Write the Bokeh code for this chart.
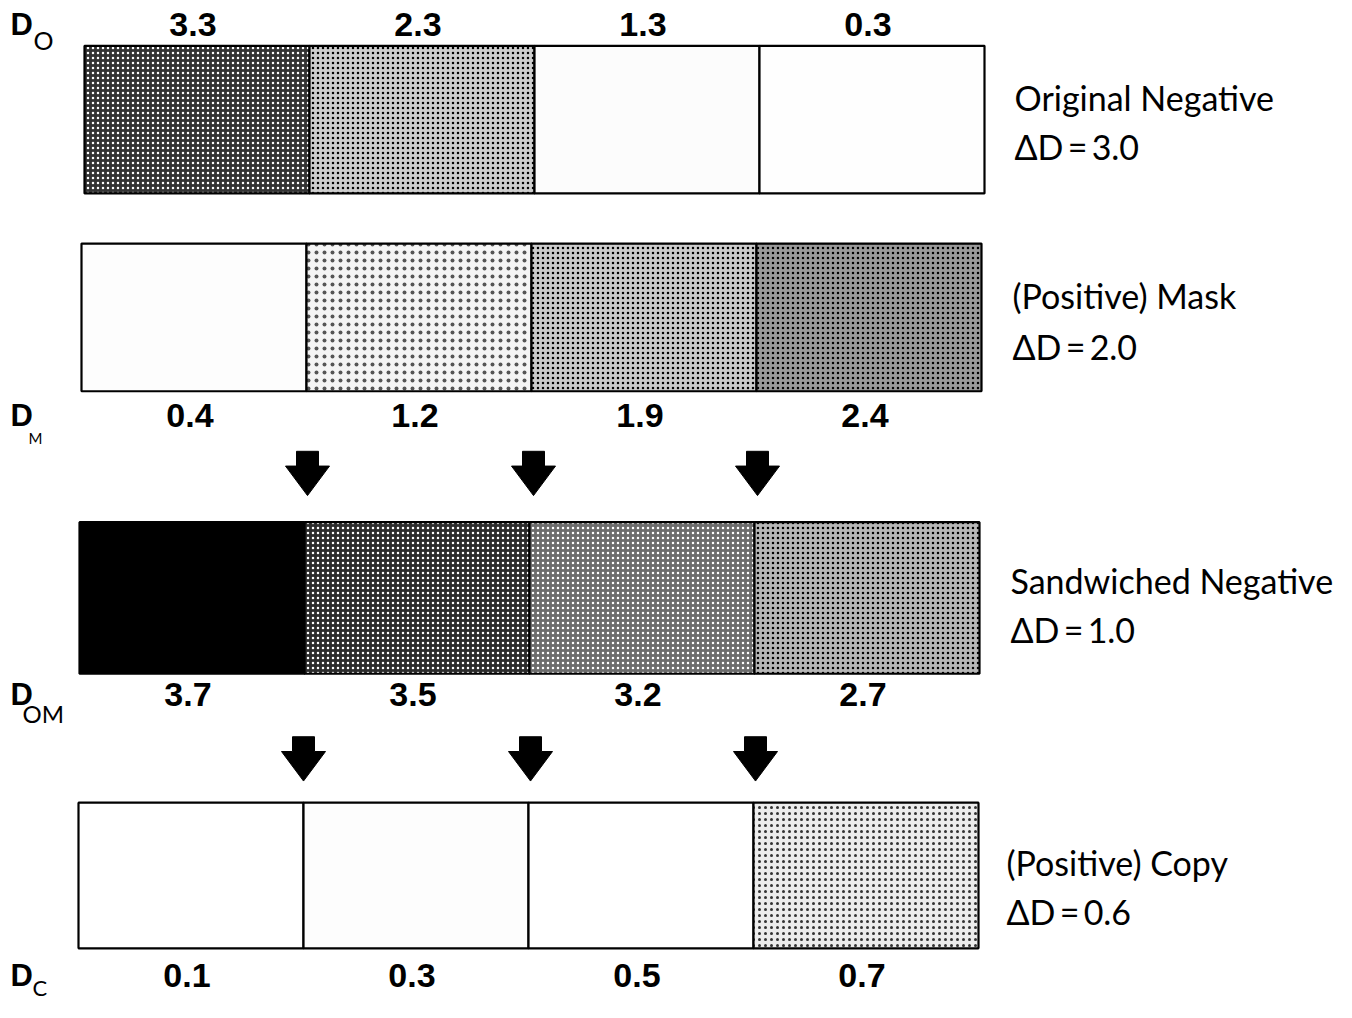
from bokeh.plotting import figure
from bokeh.models import Range1d, ColumnDataSource
from bokeh.core.properties import value
from bokeh.embed import file_html
from bokeh.resources import INLINE

# ---------------- data ----------------
strip_names = ["Original Negative", "(Positive) Mask", "Sandwiched Negative", "(Positive) Copy"]
delta_d = ["ΔD\u2009=\u20093.0", "ΔD\u2009=\u20092.0", "ΔD\u2009=\u20091.0", "ΔD\u2009=\u20090.6"]
d_o = [3.3, 2.3, 1.3, 0.3]
d_m = [0.4, 1.2, 1.9, 2.4]
d_om = [3.7, 3.5, 3.2, 2.7]
d_c = [0.1, 0.3, 0.5, 0.7]
sub_labels = ["O", "M", "OM", "C"]
densities = [d_o, d_m, d_om, d_c]

# ---------------- styles / layout ----------------
strip_top = [46, 247, 530, 815]
strip_hgt = [150, 150, 154, 148]
strip_left = [84, 81, 79, 78]
cell_w = 225
value_y = [24, 422, 705, 991]          # centre of the density labels
sub_dx = [33, 28, 22, 32]
sub_dy = [16, 22, 19, 12]
sub_size = ["25px", "15px", "24px", "22px"]
name_y = [99, 300, 589, 876]
delta_y = [148, 352, 639, 926]
right_x = [1014, 1012, 1010, 1006]
# per cell: fill, hatch colour (None = no hatch), hatch scale, hatch weight
cell_style = [
    [("#333333", "white", 5, 1.4), ("#cdcdcd", "black", 5, 1.2), ("#fcfcfc", None, 0, 0), ("#fefefe", None, 0, 0)],
    [("#fdfdfd", None, 0, 0), ("#f4f4f4", "#555555", 8, 0.9), ("#cbcbcb", "black", 5, 1.2), ("#9a9a9a", "black", 5, 1.4)],
    [("#000000", None, 0, 0), ("#2c2c2c", "white", 5, 1.3), ("#6c6c6c", "white", 5, 1.4), ("#b6b6b6", "black", 5, 1.3)],
    [("#ffffff", None, 0, 0), ("#fdfdfd", None, 0, 0), ("#ffffff", None, 0, 0), ("#ececec", "#333333", 6, 0.8)],
]
arrow_rows = [(458, 473, 503), (748, 763, 793)]
arrow_x = [[307, 533, 757], [303, 530, 755]]

W, H = 1336, 1002
p = figure(width=W, height=H, output_backend="svg", toolbar_location=None,
           x_range=Range1d(0, W), y_range=Range1d(1018, 0),
           min_border=0, outline_line_color=None)
p.axis.visible = False
p.grid.visible = False
p.background_fill_color = "white"

num_font = value("Liberation Sans")
txt_font = value("Lato")

for s in range(4):
    top = strip_top[s]
    bot = top + strip_hgt[s]
    x0 = strip_left[s]
    for i, dv in enumerate(densities[s]):
        fill, hc, hs, hw = cell_style[s][i]
        l = x0 + i * cell_w
        r = l + cell_w
        kw = dict(fill_color=fill, line_color="black", line_width=2.2)
        if hc is not None:
            kw.update(hatch_pattern="dot", hatch_color=hc, hatch_scale=hs, hatch_weight=hw)
        p.quad(left=[l], right=[r], top=[top], bottom=[bot], **kw)
    # value labels
    xs = [x0 + (i + 0.5) * cell_w - 4 for i in range(4)]
    vy = value_y[s]
    src = ColumnDataSource(dict(x=xs, y=[vy] * 4, t=[f"{v:.1f}" for v in densities[s]]))
    p.text(x="x", y="y", text="t", source=src, text_font=num_font, text_font_size="34px",
           text_font_style="bold", text_align="center", text_baseline="middle", text_color="black")
    # left D labels
    p.text(x=[10], y=[vy], text=["D"], text_font=num_font, text_font_size="31px",
           text_font_style="bold", text_align="left", text_baseline="middle", text_color="black")
    p.text(x=[sub_dx[s]], y=[vy + sub_dy[s]], text=[sub_labels[s]], text_font=txt_font,
           text_font_size=sub_size[s], text_align="left", text_baseline="middle", text_color="black")
    # right names
    p.text(x=[right_x[s]], y=[name_y[s]], text=[strip_names[s]], text_font=txt_font,
           text_font_size="34px", text_align="left", text_baseline="middle", text_color="black")
    p.text(x=[right_x[s]], y=[delta_y[s]], text=[delta_d[s]], text_font=txt_font,
           text_font_size="34px", text_align="left", text_baseline="middle", text_color="black")

# arrows
axs, ays = [], []
for (yt, ym, yb), row in zip(arrow_rows, arrow_x):
    for cx in row:
        axs.append([cx - 11, cx + 11, cx + 11, cx + 22, cx, cx - 22, cx - 11])
        ays.append([yt, yt, ym, ym, yb, ym, ym])
p.patches(axs, ays, fill_color="black", line_color="black", line_width=1)

open("out.html", "w").write(file_html(p, INLINE))
